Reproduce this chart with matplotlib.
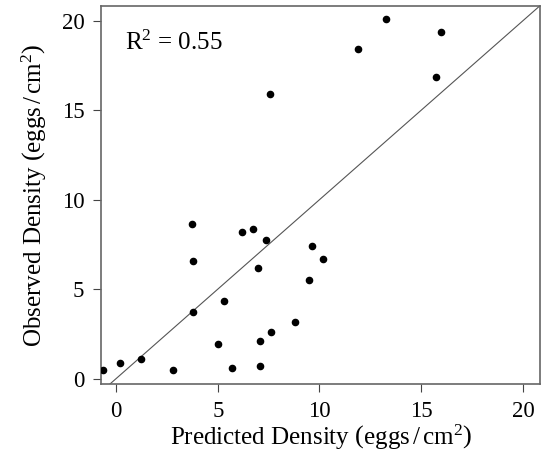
import numpy as np
import matplotlib
matplotlib.use('Agg')
import matplotlib.pyplot as plt

# predicted vs observed egg density (eggs/cm^2)
predicted = [7.57, 13.27, 15.95, 11.91, 15.71,
             -0.62, 0.18, 1.23, 2.82, 3.72, 3.77, 3.77, 5.31, 5.03, 5.72,
             6.21, 6.75, 7.39, 6.98, 7.08, 7.08, 7.62, 8.80, 9.65, 9.50, 10.19]
observed = [15.92, 20.08, 19.35, 18.40, 16.87,
            0.49, 0.86, 1.12, 0.49, 8.66, 6.58, 3.74, 4.32, 1.94, 0.62,
            8.20, 8.35, 7.77, 6.17, 2.09, 0.71, 2.61, 3.17, 7.43, 5.51, 6.69]
ticks = [0, 5, 10, 15, 20]
r2 = 0.55

plt.rcParams['font.family'] = ['Liberation Serif', 'DejaVu Serif']
plt.rcParams['mathtext.fontset'] = 'custom'
plt.rcParams['mathtext.rm'] = 'Liberation Serif'
plt.rcParams['mathtext.it'] = 'Liberation Serif:italic'
plt.rcParams['mathtext.bf'] = 'Liberation Serif:bold'

fig = plt.figure(figsize=(5.43, 4.55), dpi=100)
ax = fig.add_axes([0.186, 0.156, 0.8085, 0.8315])

ax.set_xlim(-0.74, 20.84)
ax.set_ylim(-0.30, 20.84)
ax.plot([-1, 21], [-1, 21], color='#555555', lw=0.8)
ax.scatter(predicted, observed, s=20, color='black', zorder=3)

ax.set_xticks(ticks)
ax.set_yticks(ticks)
ax.tick_params(labelsize=16.5, length=6, width=0.8, color='#444444', pad=6)
for sp in ax.spines.values():
    sp.set_color('#666666')
    sp.set_linewidth(1.2)

ax.set_xlabel(r'Predicted Density $\left(\mathrm{eggs\,/\,cm^2}\right)$', fontsize=18, labelpad=1)
ax.set_ylabel(r'Observed Density $\left(\mathrm{eggs\,/\,cm^2}\right)$', fontsize=18, labelpad=9)
ax.text(0.054, 0.935, r'$\mathrm{R^2}$ = %.2f' % r2, transform=ax.transAxes,
        fontsize=18, va='top', ha='left')

fig.savefig('out.png', dpi=100)
